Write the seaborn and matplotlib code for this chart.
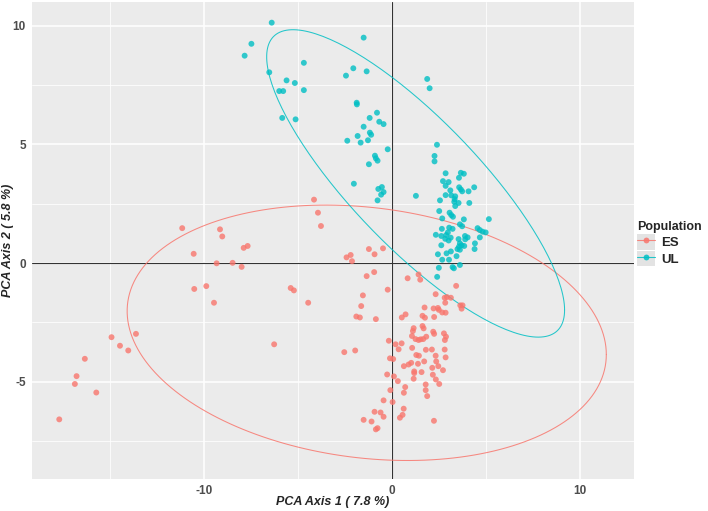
import numpy as np
import pandas as pd
import matplotlib
matplotlib.use("Agg")
import matplotlib.pyplot as plt
import seaborn as sns
from matplotlib.lines import Line2D
from matplotlib.patches import Patch
from matplotlib.ticker import MultipleLocator

# PCA scores, per population
es_x = [-10.56, -9.34, -8.49, -8.01, -10.53, -9.89, -9.48, -5.40, -5.23, -4.47, -2.43,
        -14.93, -14.48, -14.04, -13.63, -16.35, -16.79, -16.88, -15.74, -17.71, -6.28, -2.55,
        -4.16, -3.95, -3.79, -11.17, -9.16, -9.04, -7.90, -7.69,
        -1.24, -0.49, -0.94, -2.21, -2.14, -0.96, -1.36, 0.82, -0.24, -1.56, -1.65, -1.91,
        -1.72, -0.87, 0.51, 0.71, -1.97, -0.18, 0.18, 0.50, 0.34, -0.12, 0.05,
        1.40, 1.49, 3.40, 2.31, 2.79, 2.91, 3.12, 2.82, 1.72, 2.20, 2.43, 2.48, 2.66, 2.84,
        1.61, 1.74, 2.23, 1.14, 1.10, 1.61, 1.67, 2.18, 2.23, 2.75, 2.86, 2.80, 1.05, 1.24,
        1.40, 1.65, 1.81, 1.06, 1.79, 2.11, 2.79, 1.28, 1.42, 2.31, 2.84,
        3.62, 3.74, 3.69, 1.51,
        0.62, 0.87, 1.01, 1.37, 1.70, 2.34, 2.45, 2.13, 2.70, 1.17, 1.17, 1.56, -0.27, 0.09,
        2.16, 1.14, 2.32, 0.30, 2.50, 1.78, 0.69, -0.10, 1.78, 0.62, 1.86, -0.46, 0.02, 0.61,
        -0.94, -0.62, 0.55, -0.46, 0.41, -1.52, -1.10, 2.22, -0.78, -0.87]
es_y = [0.39, -0.01, 0.01, -0.16, -1.09, -0.97, -1.67, -1.05, -1.15, -1.67, 0.24,
        -3.12, -3.48, -3.68, -2.98, -4.03, -4.76, -5.09, -5.45, -6.58, -3.42, -3.75,
        2.67, 2.12, 1.56, 1.47, 1.42, 1.12, 0.64, 0.72,
        0.59, 0.62, 0.37, 0.34, 0.08, -0.38, -0.55, -0.64, -1.12, -1.36, -1.81, -2.25,
        -2.29, -2.36, -2.29, -2.16, -3.68, -3.27, -3.42, -3.38, -3.63, -4.01, -4.04,
        -0.48, -0.70, -0.96, -1.31, -1.46, -1.43, -1.46, -1.67, -1.87, -1.91, -1.89, -1.97,
        -2.08, -2.09, -2.22, -2.30, -2.27, -2.74, -2.86, -2.65, -2.75, -2.89, -2.98, -2.96,
        -3.10, -3.24, -3.07, -3.20, -3.24, -3.20, -3.10, -3.57, -3.65, -3.64, -3.64, -3.87,
        -3.90, -3.90, -3.97,
        -1.78, -1.78, -1.92, -3.21,
        -4.34, -4.27, -4.20, -4.24, -4.14, -4.14, -4.34, -4.41, -4.51, -4.56, -4.63, -4.59,
        -4.69, -4.77, -4.70, -4.87, -4.90, -4.97, -5.09, -5.11, -5.22, -5.35, -5.35, -5.46,
        -5.60, -5.78, -5.85, -6.13, -6.26, -6.29, -6.39, -6.47, -6.51, -6.60, -6.67, -6.64,
        -6.95, -7.00]

ul_x = [-6.41, -7.49, -7.85, -4.70, -6.54, -5.62, -5.18, -6.01, -5.80, -4.70, -5.85, -5.14,
        -1.52, -2.07, -1.36, -2.46, -1.89, -1.88, -0.81, -1.20, -0.69, -0.46, -1.52, -1.19,
        -1.12, -1.84, -2.39, -1.68, -1.29, -0.24, -0.92, -0.87, -0.78, -1.24, -2.04, -0.55,
        -0.74, -0.46, -0.59, -0.78,
        1.86, 1.99, 2.38, 2.25, 2.25, 1.26,
        2.84, 3.65, 3.81, 2.70, 3.00, 2.84, 3.55, 3.56, 3.65, 3.72, 4.06, 4.36, 3.09, 2.84,
        3.14, 3.35, 2.54, 3.32, 3.30, 3.53, 4.10, 3.35, 2.50, 3.05, 3.14, 3.23, 2.66, 3.81,
        5.14, 3.60, 3.72, 2.64, 3.03, 3.21, 2.96, 2.32, 2.61, 2.87, 3.11, 2.82, 3.00, 3.53,
        3.87, 4.01, 3.88, 4.54, 4.66, 4.81, 4.97, 4.66, 3.60, 3.55, 3.69, 2.61, 4.40, 3.83,
        3.47, 3.60, 3.12, 2.89, 2.43, 4.38, 3.42, 2.66, 3.02, 3.60, 2.48, 3.21, 3.28, 2.39]
ul_y = [10.12, 9.23, 8.73, 8.43, 8.03, 7.69, 7.58, 7.24, 7.24, 7.28, 6.11, 6.05,
        9.49, 8.20, 8.07, 7.89, 6.75, 6.68, 6.33, 6.11, 5.95, 5.85, 5.74, 5.49,
        5.40, 5.35, 5.15, 5.07, 5.17, 4.79, 4.52, 4.41, 4.31, 4.16, 3.34, 3.20,
        3.12, 2.99, 2.88, 2.64,
        7.75, 7.36, 4.98, 4.51, 4.28, 2.83,
        3.78, 3.80, 3.76, 3.45, 3.41, 3.25, 3.59, 3.19, 3.10, 3.02, 3.02, 3.19, 3.06, 2.86,
        2.85, 2.81, 2.64, 2.69, 2.58, 2.53, 2.53, 2.40, 2.19, 2.12, 2.02, 1.95, 1.88, 1.84,
        1.85, 1.63, 1.55, 1.44, 1.49, 1.44, 1.29, 1.19, 1.14, 1.18, 1.07, 1.02, 0.95, 1.01,
        1.14, 1.08, 1.00, 1.47, 1.39, 1.32, 1.29, 1.08, 0.83, 0.69, 0.75, 0.75, 0.83, 0.72,
        0.59, 0.56, 0.49, 0.41, 0.37, 0.59, 0.29, 0.14, 0.14, -0.08, -0.20, -0.17, -0.22, -0.58]

populations = ["ES", "UL"]
pop_colors = ["#F8766D", "#00BFC4"]
x_label = "PCA Axis 1 ( 7.8 %)"
y_label = "PCA Axis 2 ( 5.8 %)"


def ellipse_path(x, y, level=0.95, segments=200):
    '''95% confidence ellipse in the style of ggplot2 stat_ellipse (normal).'''
    pts = np.column_stack([x, y])
    n = len(pts)
    center = pts.mean(axis=0)
    cov = np.cov(pts, rowvar=False)
    dfd = n - 1
    # F quantile with 2 numerator df has a closed form
    qf = dfd / 2 * ((1 - level) ** (-2 / dfd) - 1)
    radius = np.sqrt(2 * qf)
    theta = np.linspace(0, 2 * np.pi, segments)
    circle = np.column_stack([np.cos(theta), np.sin(theta)])
    upper = np.linalg.cholesky(cov).T
    return center + radius * circle @ upper


df = pd.DataFrame({
    "PC1": es_x + ul_x,
    "PC2": es_y + ul_y,
    "Population": ["ES"] * len(es_x) + ["UL"] * len(ul_x),
})

sns.set_theme(style="darkgrid")
plt.rcParams["font.family"] = ["Liberation Sans", "DejaVu Sans"]
plt.rcParams["axes.unicode_minus"] = False

fig = plt.figure(figsize=(7.08, 5.11), dpi=100)
ax = fig.add_axes([32 / 708, 1 - 479 / 511, (634 - 32) / 708, (479 - 2) / 511])
ax.set_facecolor("#EBEBEB")

ax.axhline(0, color="#333333", lw=0.8, zorder=1)
ax.axvline(0, color="#333333", lw=0.8, zorder=1)

sns.scatterplot(data=df, x="PC1", y="PC2", hue="Population", hue_order=populations,
                palette=pop_colors, s=18, linewidth=0, alpha=0.8, legend=False,
                ax=ax, zorder=3)

for pop, col in zip(populations, pop_colors):
    sub = df[df["Population"] == pop]
    path = ellipse_path(sub["PC1"].values, sub["PC2"].values)
    ax.plot(path[:, 0], path[:, 1], color=col, lw=0.75, alpha=0.85, zorder=2)

ax.set_xlim(-19.16, 12.86)
ax.set_ylim(-9.09, 10.99)
ax.xaxis.set_major_locator(MultipleLocator(10))
ax.xaxis.set_minor_locator(MultipleLocator(5))
ax.yaxis.set_major_locator(MultipleLocator(5))
ax.yaxis.set_minor_locator(MultipleLocator(2.5))
ax.grid(which="major", color="white", lw=1.1)
ax.grid(which="minor", color="white", lw=0.55)
ax.set_axisbelow(True)
for side in ax.spines.values():
    side.set_visible(False)

ax.tick_params(which="major", length=3, width=0.8, color="#333333", pad=1.5,
               labelsize=8.5, labelcolor="#4D4D4D")
ax.tick_params(which="minor", length=0)
for lab in ax.get_xticklabels() + ax.get_yticklabels():
    lab.set_fontweight("bold")

ax.set_xlabel(x_label, fontsize=9, fontweight="bold", fontstyle="italic")
ax.set_ylabel(y_label, fontsize=9, fontweight="bold", fontstyle="italic")
ax.xaxis.set_label_coords((333 - 32) / (634 - 32), -(502 - 479) / (479 - 2))
ax.yaxis.set_label_coords(-(32 - 8) / (634 - 32), (479 - 240) / (479 - 2))
ax.xaxis.label.set_va("center")
ax.yaxis.label.set_va("center")

handles = [(Patch(facecolor="#E3E3E3", edgecolor="none"),
            Line2D([], [], color=c, lw=0.8, marker="o", markersize=4.2,
                   markeredgewidth=0, alpha=0.85))
           for c in pop_colors]
leg = fig.legend(handles, populations, title="Population", loc="upper left",
                 bbox_to_anchor=(637 / 708, 1 - 221 / 511), frameon=False,
                 handlelength=1.35, handleheight=1.4, handletextpad=0.45,
                 labelspacing=0.1, borderaxespad=0, borderpad=0,
                 prop={"size": 9.5, "weight": "bold"})
leg.get_title().set_fontweight("bold")
leg.get_title().set_fontsize(9)
leg._legend_box.align = "left"

fig.savefig("out.png", dpi=100)
